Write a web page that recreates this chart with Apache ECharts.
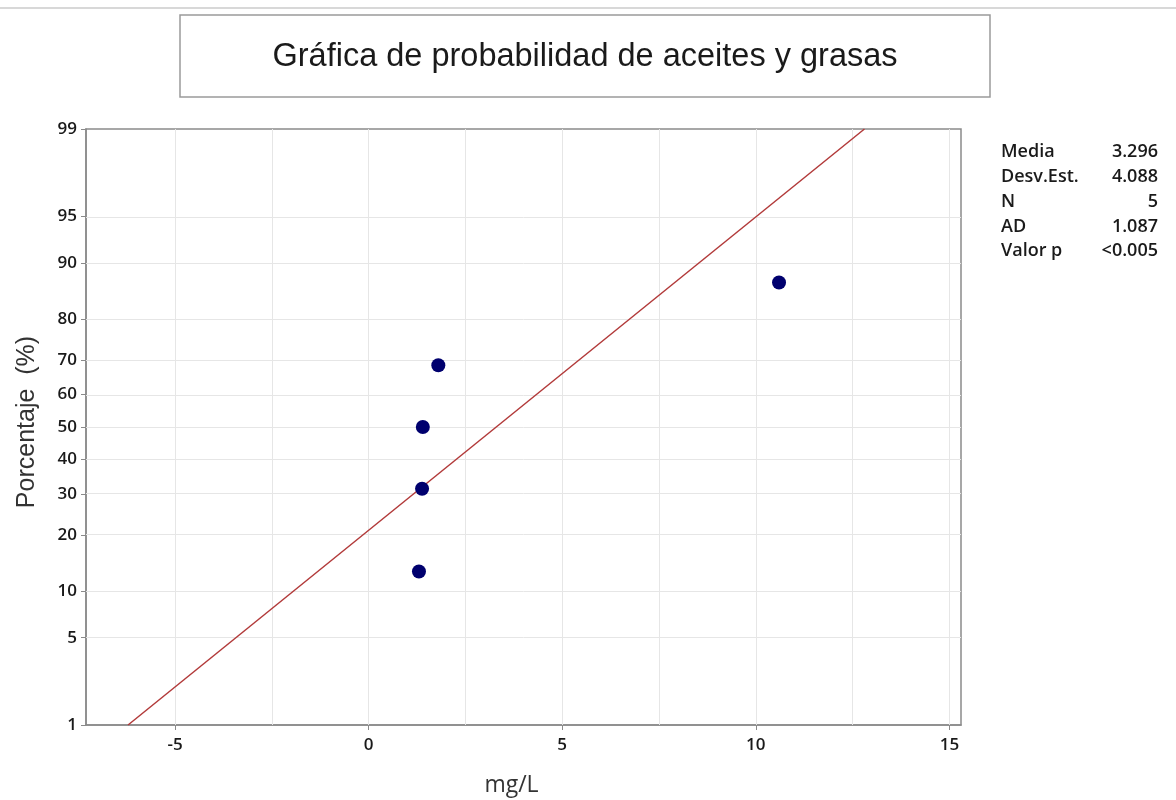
<!DOCTYPE html>
<html>
<head>
<meta charset="utf-8">
<script src="https://cdn.jsdelivr.net/npm/echarts@6/dist/echarts.min.js"></script>
<style>
html,body{margin:0;padding:0;background:#fff;}
#chart{width:1176px;height:800px;}
</style>
</head>
<body>
<div id="chart"></div>
<script>
// ---- data ----
const titleText = 'Gráfica de probabilidad de aceites y grasas';
const xValues = [1.3, 1.38, 1.4, 1.8, 10.6];          // mg/L (sorted)
const percentValues = [12.96, 31.48, 50.0, 68.52, 87.04]; // median ranks (%)
const statLabels = ['Media', 'Desv.Est.', 'N', 'AD', 'Valor p'];
const statValues = ['3.296', '4.088', '5', '1.087', '<0.005'];
const fitMean = 3.296;
const fitSd = 4.088;
const yTickPercents = [1, 5, 10, 20, 30, 40, 50, 60, 70, 80, 90, 95, 99];
const xTickLabels = [-5, 0, 5, 10, 15];
const xGridValues = [-5, -2.5, 0, 2.5, 5, 7.5, 10, 12.5, 15];
const fitPercents = [1, 99];

// inverse normal CDF (Acklam)
function invNorm(p) {
  const a = [-3.969683028665376e+01, 2.209460984245205e+02, -2.759285104469687e+02, 1.383577518672690e+02, -3.066479806614716e+01, 2.506628277459239e+00];
  const b = [-5.447609879822406e+01, 1.615858368580409e+02, -1.556989798598866e+02, 6.680131188771972e+01, -1.328068155288572e+01];
  const c = [-7.784894002430293e-03, -3.223964580411365e-01, -2.400758277161838e+00, -2.549732539343734e+00, 4.374664141464968e+00, 2.938163982698783e+00];
  const d = [7.784695709041462e-03, 3.224671290700398e-01, 2.445134137142996e+00, 3.754408661907416e+00];
  const pl = 0.02425, ph = 1 - pl;
  let q, r;
  if (p < pl) {
    q = Math.sqrt(-2 * Math.log(p));
    return (((((c[0]*q+c[1])*q+c[2])*q+c[3])*q+c[4])*q+c[5]) / ((((d[0]*q+d[1])*q+d[2])*q+d[3])*q+1);
  } else if (p <= ph) {
    q = p - 0.5; r = q * q;
    return (((((a[0]*r+a[1])*r+a[2])*r+a[3])*r+a[4])*r+a[5])*q / (((((b[0]*r+b[1])*r+b[2])*r+b[3])*r+b[4])*r+1);
  } else {
    q = Math.sqrt(-2 * Math.log(1 - p));
    return -(((((c[0]*q+c[1])*q+c[2])*q+c[3])*q+c[4])*q+c[5]) / ((((d[0]*q+d[1])*q+d[2])*q+d[3])*q+1);
  }
}
const z = pct => invNorm(pct / 100);

const yTickZ = yTickPercents.map(z);
const labelMap = {};
yTickPercents.forEach((p, i) => { labelMap[yTickZ[i].toFixed(5)] = String(p); });
const zMin = z(1), zMax = z(99);

const points = xValues.map((x, i) => [x, z(percentValues[i])]);
const fitLine = fitPercents.map(p => [fitMean + z(p) * fitSd, z(p)]);

const gridColor = '#e6e6e6';
const hLines = yTickZ.map(v => ({ yAxis: v }));
const vLines = xGridValues.map(v => ({ xAxis: v }));

const chart = echarts.init(document.getElementById('chart'), null, { renderer: 'canvas' });

const statFont = '600 18px "Open Sans"';
const statGraphics = [];
statLabels.forEach((s, i) => {
  statGraphics.push({
    type: 'text', x: 1001, y: 152 + i * 24.8,
    style: { text: s, font: statFont, fill: '#1a1a1a', textAlign: 'left', textVerticalAlign: 'middle' }
  });
  statGraphics.push({
    type: 'text', x: 1158, y: 152 + i * 24.8,
    style: { text: statValues[i], font: statFont, fill: '#1a1a1a', textAlign: 'right', textVerticalAlign: 'middle' }
  });
});

chart.setOption({
  backgroundColor: '#fff',
  animation: false,
  grid: { left: 86, right: 215, top: 129, bottom: 75, show: true, borderColor: '#8a8a8a', borderWidth: 1.5, backgroundColor: 'transparent', containLabel: false, outerBoundsMode: 'none' },
  xAxis: {
    type: 'value', min: -7.3, max: 15.3,
    name: 'mg/L', nameLocation: 'middle', nameGap: 49,
    nameTextStyle: { fontFamily: 'Open Sans', fontSize: 23, color: '#333', padding: [0, 24, 0, 0] },
    axisLine: { onZero: false, lineStyle: { color: '#8a8a8a', width: 1.5 } },
    axisTick: { show: true, length: 5, customValues: xTickLabels, lineStyle: { color: '#8a8a8a' } },
    axisLabel: { customValues: xTickLabels, fontFamily: 'Open Sans', fontWeight: 600, fontSize: 17, color: '#1a1a1a', margin: 12 },
    splitLine: { show: false }
  },
  yAxis: {
    type: 'value', min: zMin, max: zMax,
    name: 'Porcentaje  (%)', nameLocation: 'middle', nameGap: 46, nameRotate: 90,
    nameTextStyle: { fontFamily: 'Liberation Sans', fontSize: 25, color: '#333', padding: [0, 0, 0, 10] },
    axisLine: { show: true, onZero: false, lineStyle: { color: '#8a8a8a', width: 1.5 } },
    axisTick: { show: true, length: 5, customValues: yTickZ, lineStyle: { color: '#8a8a8a' } },
    axisLabel: {
      customValues: yTickZ, fontFamily: 'Open Sans', fontWeight: 600, fontSize: 17, color: '#1a1a1a', margin: 9,
      formatter: v => labelMap[Number(v).toFixed(5)] || ''
    },
    splitLine: { show: false }
  },
  graphic: [
    { type: 'line', shape: { x1: 0, y1: 8, x2: 1176, y2: 8 }, style: { stroke: '#d8d8d8', lineWidth: 2 } },
    { type: 'rect', shape: { x: 180, y: 15, width: 810, height: 82 }, style: { fill: '#fff', stroke: '#9a9a9a', lineWidth: 1.5 } },
    { type: 'text', x: 585, y: 57, style: { text: titleText, font: '32.5px "Liberation Sans"', fill: '#1a1a1a', textAlign: 'center', textVerticalAlign: 'middle' } }
  ].concat(statGraphics),
  series: [
    {
      type: 'line', data: [], silent: true, z: 1,
      markLine: {
        silent: true, symbol: 'none', label: { show: false }, z: 1,
        lineStyle: { color: gridColor, width: 1, type: 'solid' },
        data: hLines.concat(vLines)
      }
    },
    {
      type: 'line', data: fitLine, showSymbol: false, silent: true,
      lineStyle: { color: '#b23a3a', width: 1.5 }, z: 3
    },
    {
      type: 'scatter', data: points, symbol: 'circle', symbolSize: 14,
      itemStyle: { color: '#00006e', opacity: 1 }, z: 4
    }
  ]
});
</script>
</body>
</html>
